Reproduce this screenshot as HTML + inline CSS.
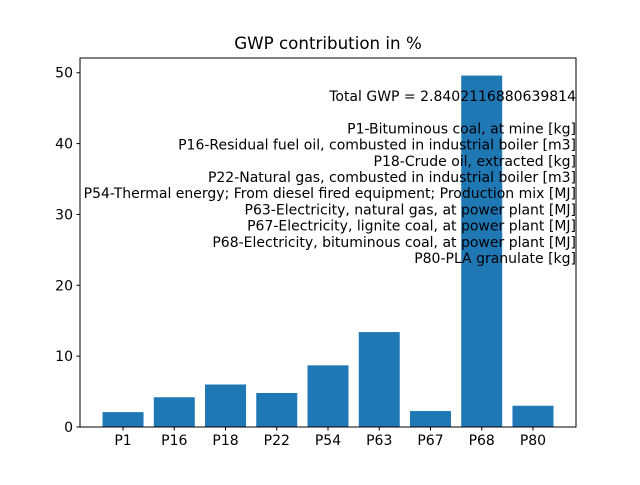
<!DOCTYPE html>
<html><head><meta charset="utf-8"><style>
body{margin:0;background:#fff;}
svg text{font-family:"DejaVu Sans","Liberation Sans",sans-serif;}
</style></head><body>
<svg id="chart" width="640" height="480" xmlns="http://www.w3.org/2000/svg">
<rect width="640" height="480" fill="#fff"/>
<text x="328" y="49" font-size="16.7" text-anchor="middle">GWP contribution in %</text>
<g id="bars"></g>
<g id="axes"></g>
<g id="legend-text" font-size="14" text-anchor="end"></g>
</svg>
<script>
const categories=["P1","P16","P18","P22","P54","P63","P67","P68","P80"];
const values=[2.1,4.2,6.0,4.8,8.7,13.4,2.25,49.6,3.0];
const yTicks=[0,10,20,30,40,50];
const legendLines=["Total GWP = 2.8402116880639814","","P1-Bituminous coal, at mine [kg]","P16-Residual fuel oil, combusted in industrial boiler [m3]","P18-Crude oil, extracted [kg]","P22-Natural gas, combusted in industrial boiler [m3]","P54-Thermal energy; From diesel fired equipment; Production mix [MJ]","P63-Electricity, natural gas, at power plant [MJ]","P67-Electricity, lignite coal, at power plant [MJ]","P68-Electricity, bituminous coal, at power plant [MJ]","P80-PLA granulate [kg]"];
const NS="http://www.w3.org/2000/svg";
const L=80,R=576,T=58,B=427;
const n=categories.length;
const xmin=-0.4-0.05*(n-0.2),xmax=n-1+0.4+0.05*(n-0.2);
const ymax=Math.max(...values)*1.05;
const xs=v=>L+(v-xmin)/(xmax-xmin)*(R-L);
const ys=v=>B-v/ymax*(B-T);
function mk(t,a,p){const e=document.createElementNS(NS,t);for(const k in a)e.setAttribute(k,a[k]);p.appendChild(e);return e;}
const bars=document.getElementById('bars');
values.forEach((v,i)=>{
 const r=mk('rect',{x:xs(i-0.4),y:ys(v),width:xs(i+0.4)-xs(i-0.4),height:B-ys(v),fill:'#1f77b4'},bars);
 
 
});
const ax=document.getElementById('axes');
const fr=mk('rect',{x:L,y:T,width:R-L,height:B-T,fill:'none',stroke:'#000','stroke-width':1},ax);


categories.forEach((c,i)=>{
 mk('line',{x1:xs(i),x2:xs(i),y1:B,y2:B+3.5,stroke:'#000'},ax);
 const t=mk('text',{x:xs(i),y:B+18,'font-size':14,'text-anchor':'middle'},ax);
 t.textContent=c;
 
 
});
yTicks.forEach(v=>{
 mk('line',{x1:L-3.5,x2:L,y1:ys(v),y2:ys(v),stroke:'#000'},ax);
 const t=mk('text',{x:L-7,y:ys(v)+5,'font-size':14,'text-anchor':'end'},ax);
 t.textContent=v;
 
 
});
const lg=document.getElementById('legend-text');
legendLines.forEach((s,i)=>{
 const t=mk('text',{x:576,y:101+i*16.2},lg);
 t.textContent=s;
 
 
});
</script>
</body></html>
